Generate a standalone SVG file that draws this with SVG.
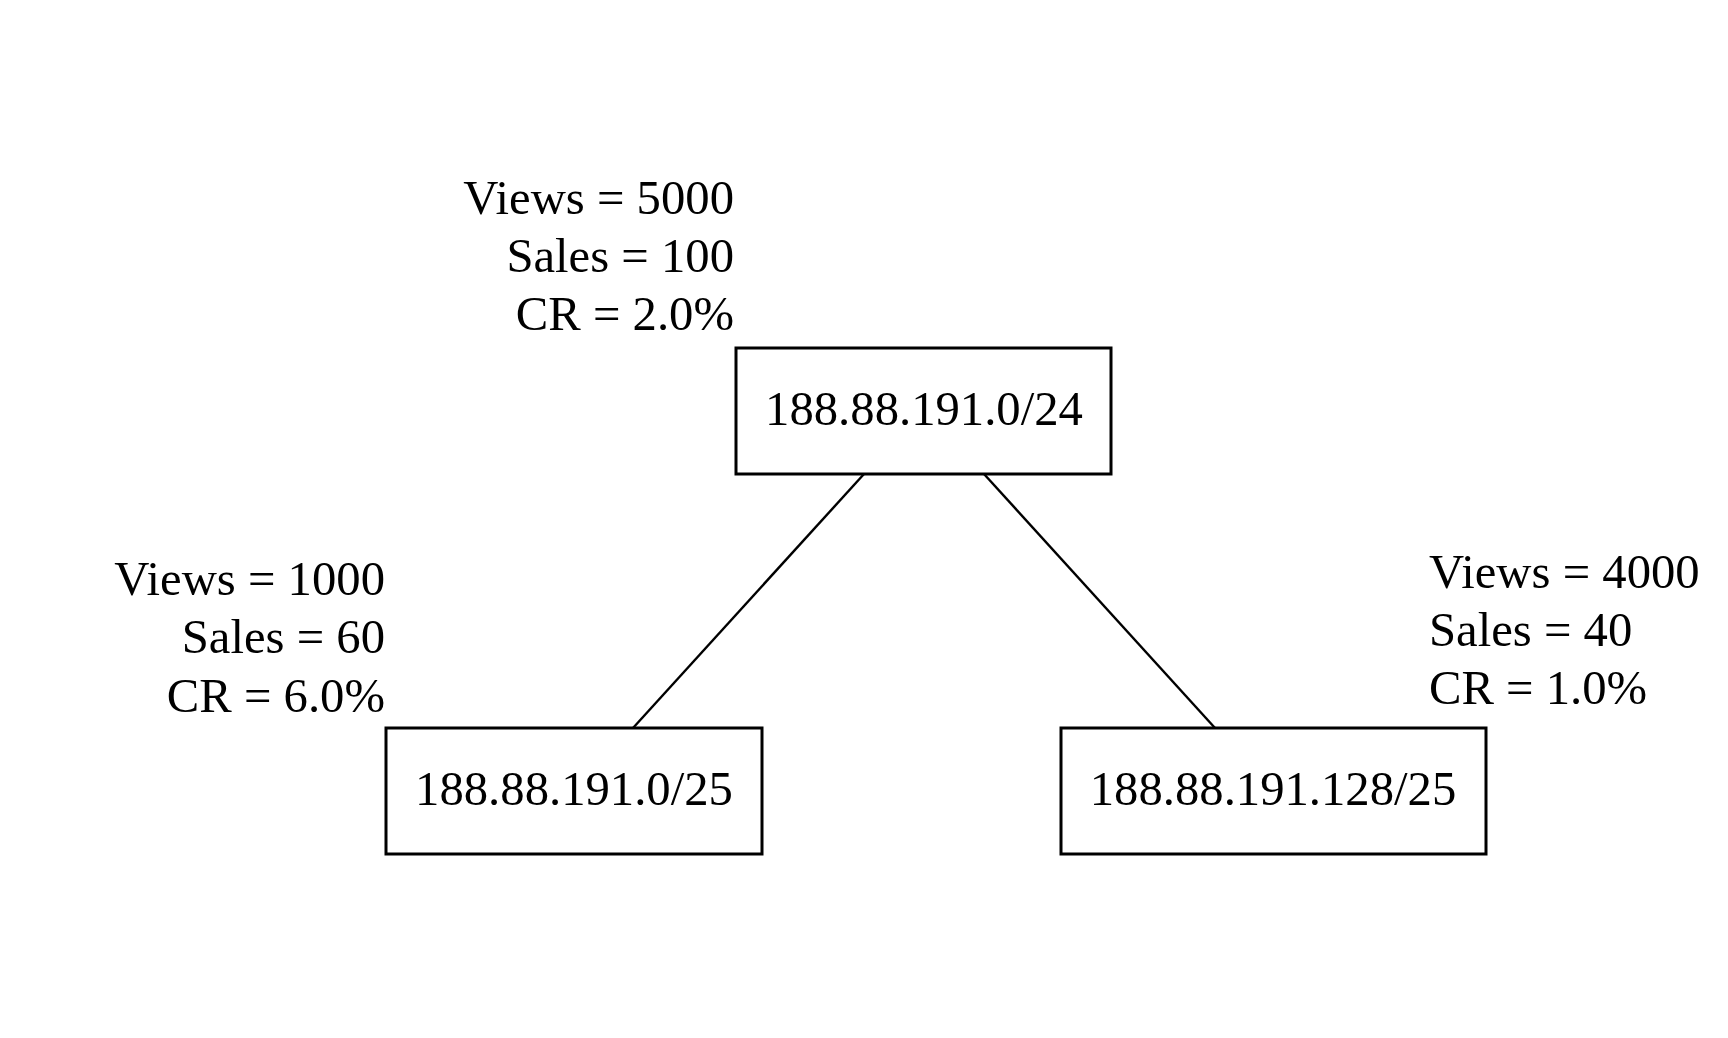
<svg xmlns="http://www.w3.org/2000/svg" width="1728" height="1038" viewBox="0 0 1728 1038">
<style>
  text { font-family: "Liberation Serif", "Times New Roman", serif; font-size: 48.7px; fill: #000; }
  .box { fill: #fff; stroke: #000; stroke-width: 3; }
  .edge { stroke: #000; stroke-width: 2.4; fill: none; }
  .r { text-anchor: end; }
  .m { text-anchor: middle; }
</style>
<rect width="1728" height="1038" fill="#fff"/>
<g id="connectors">
  <line class="edge" x1="864" y1="474" x2="633" y2="728"/>
  <line class="edge" x1="984" y1="474" x2="1215" y2="728"/>
</g>
<g id="node-root">
  <rect class="box" x="736" y="348" width="375" height="126"/>
  <text class="m" x="924" y="425">188.88.191.0/24</text>
  <text class="r" x="734" y="214">Views = 5000</text>
  <text class="r" x="734" y="272">Sales = 100</text>
  <text class="r" x="734" y="330">CR = 2.0%</text>
</g>
<g id="node-left">
  <rect class="box" x="386" y="728" width="376" height="126"/>
  <text class="m" x="574" y="805">188.88.191.0/25</text>
  <text class="r" x="385" y="595">Views = 1000</text>
  <text class="r" x="385" y="653">Sales = 60</text>
  <text class="r" x="385" y="712">CR = 6.0%</text>
</g>
<g id="node-right">
  <rect class="box" x="1061" y="728" width="425" height="126"/>
  <text class="m" x="1273" y="805">188.88.191.128/25</text>
  <text x="1429" y="588">Views = 4000</text>
  <text x="1429" y="646">Sales = 40</text>
  <text x="1429" y="704">CR = 1.0%</text>
</g>
</svg>
